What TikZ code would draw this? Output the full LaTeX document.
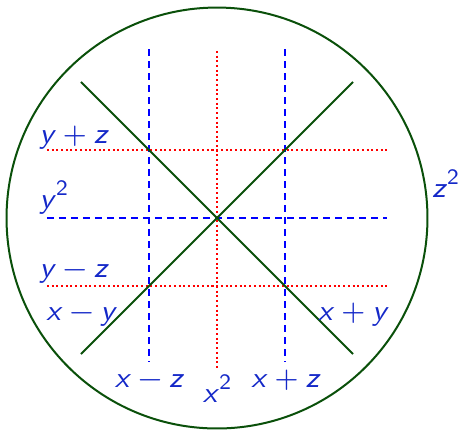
\documentclass[tikz,border=0pt]{standalone}
\usepackage{fontspec}
\newfontfamily\lblfont{lmsans8-regular.otf}[ItalicFont=lmsans8-oblique.otf]
\definecolor{lblblue}{RGB}{20,40,200}
\definecolor{circgreen}{RGB}{10,80,10}
\usetikzlibrary{positioning}
\newcommand{\vr}[1]{\textit{#1}}
\newcommand{\bop}[1]{\hspace{.24em}#1\hspace{.24em}}
\newcommand{\sq}{\raisebox{.42em}{\fontsize{22}{24}\selectfont 2}}

\begin{document}
\begin{tikzpicture}[x=68pt,y=68pt,
  lbl/.style={text=lblblue,font=\fontsize{29}{33}\selectfont\lblfont,inner sep=0pt,anchor=base},
  dashline/.style={blue,line width=2pt,dash pattern=on 7pt off 5pt},
  dotline/.style={red,line width=2pt,dash pattern=on 2pt off 2.7pt},
  diag/.style={circgreen,line width=2pt}]
  \useasboundingbox (-3.191,-3.118) rectangle (3.588,3.206);
  \draw[circgreen,line width=2pt] (0,0) circle (3.095);
  % grid lines
  \draw[dotline] (0,2.456) -- (0,-2.206);
  \foreach \x in {-1,1}
    \draw[dashline] (\x,2.485) -- (\x,-2.118);
  \draw[dashline] (-2.5,0) -- (2.5,0);
  \foreach \y in {-1,1}
    \draw[dotline] (-2.5,\y) -- (2.5,\y);
  % diagonals
  \draw[diag] (-2,2) -- (2,-2);
  \draw[diag] (2,2) -- (-2,-2);
  % labels
  \node[lbl] (ypz) at (-2.10,1.103) {\vr{y}\bop{+}\vr{z}};
  \node[lbl] (ysq) at (-2.40,0.147) {\vr{y}\sq};
  \node[lbl] (ymz) at (-2.10,-0.868) {\vr{y}\bop{−}\vr{z}};
  \node[lbl] (xmy) at (-1.99,-1.50) {\vr{x}\bop{−}\vr{y}};
  \node[lbl] (xpy) at (2.007,-1.50) {\vr{x}\bop{+}\vr{y}};
  \node[lbl] (xmz) at (-0.993,-2.485) {\vr{x}\bop{−}\vr{z}};
  \node[lbl] (xsq) at (0,-2.706) {\vr{x}\sq};
  \node[lbl] (xpz) at (1.015,-2.485) {\vr{x}\bop{+}\vr{z}};
  \node[lbl] (zsq) at (3.36,0.309) {\vr{z}\sq};
\end{tikzpicture}
\end{document}
